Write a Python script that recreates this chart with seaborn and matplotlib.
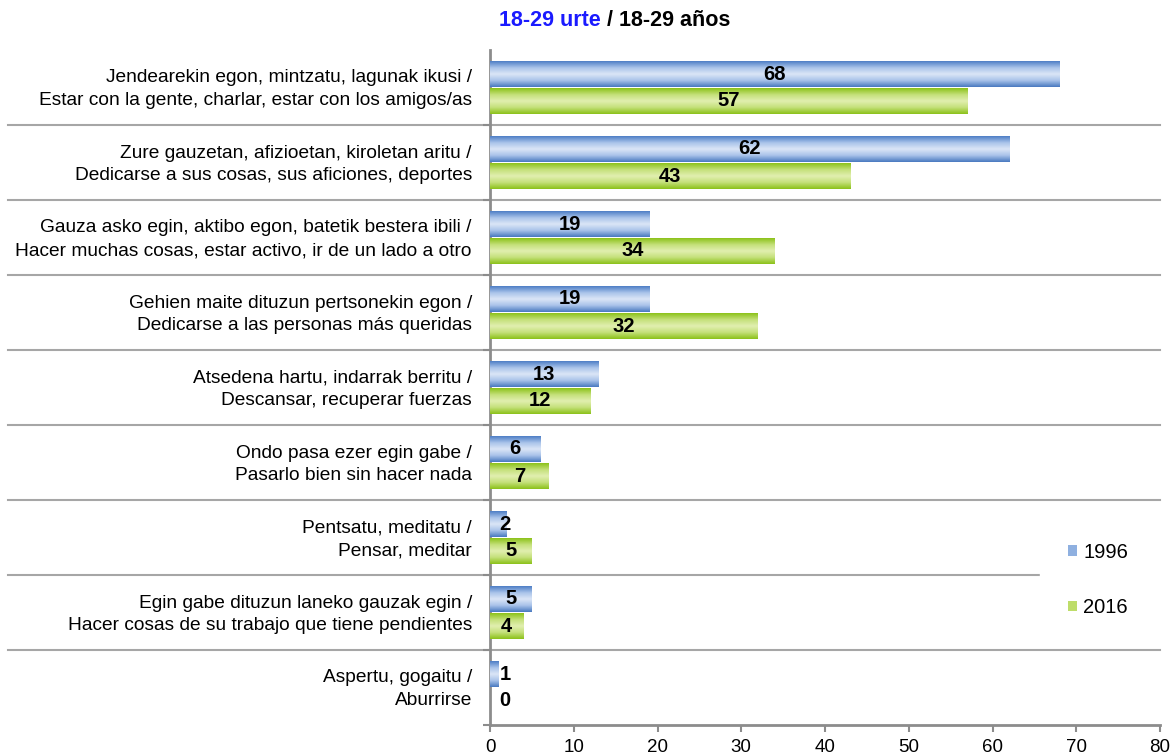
import numpy as np
import pandas as pd
import matplotlib
matplotlib.use("Agg")
import matplotlib.pyplot as plt
import seaborn as sns
from matplotlib.patches import Patch
from matplotlib.colors import LinearSegmentedColormap
import matplotlib.transforms as mtransforms

categories = [
    "Jendearekin egon, mintzatu, lagunak ikusi /\nEstar con la gente, charlar, estar con los amigos/as",
    "Zure gauzetan, afizioetan, kiroletan aritu /\nDedicarse a sus cosas, sus aficiones, deportes",
    "Gauza asko egin, aktibo egon, batetik bestera ibili /\nHacer muchas cosas, estar activo, ir de un lado a otro",
    "Gehien maite dituzun pertsonekin egon /\nDedicarse a las personas más queridas",
    "Atsedena hartu, indarrak berritu /\nDescansar, recuperar fuerzas",
    "Ondo pasa ezer egin gabe /\nPasarlo bien sin hacer nada",
    "Pentsatu, meditatu /\nPensar, meditar",
    "Egin gabe dituzun laneko gauzak egin /\nHacer cosas de su trabajo que tiene pendientes",
    "Aspertu, gogaitu /\nAburrirse",
]
values_1996 = [68, 62, 19, 19, 13, 6, 2, 5, 1]
values_2016 = [57, 43, 34, 32, 12, 7, 5, 4, 0]
series = ["1996", "2016"]
x_ticks = [0, 10, 20, 30, 40, 50, 60, 70, 80]

df = pd.DataFrame({
    "cat": categories * 2,
    "value": values_1996 + values_2016,
    "year": [series[0]] * len(categories) + [series[1]] * len(categories),
})

plt.rcParams['font.family'] = ['Liberation Sans', 'DejaVu Sans']

fig = plt.figure(figsize=(11.75, 7.55), dpi=100)
ax = fig.add_axes([490 / 1175, 30 / 755, 670 / 1175, 675 / 755])

base_colors = {"1996": "#5a8ad0", "2016": "#92c523"}
sns.barplot(data=df, y="cat", x="value", hue="year", orient="h", ax=ax,
            palette=base_colors, width=0.72, gap=0.07, legend=False,
            saturation=1, errorbar=None)

grad = {
    "1996": LinearSegmentedColormap.from_list("b", ["#4f7fc6", "#a9c3ea", "#dbe6f7", "#a9c3ea", "#4a7ac0"]),
    "2016": LinearSegmentedColormap.from_list("g", ["#8cc21a", "#c4e07a", "#e1efb0", "#c4e07a", "#8cc21a"]),
}

ax.set_xlim(0, 80)
ax.set_ylim(len(categories) - 0.5, -0.5)

g = np.linspace(0, 1, 64).reshape(-1, 1)
for container, yr in zip(ax.containers, series):
    for patch in container.patches:
        x0, y0 = patch.get_x(), patch.get_y()
        w, h = patch.get_width(), patch.get_height()
        if w <= 0:
            continue
        im = ax.imshow(g, cmap=grad[yr], aspect="auto",
                       extent=[x0, x0 + w, y0 + h, y0], zorder=3,
                       interpolation="bilinear")
        im.set_clip_path(patch)
        patch.set_edgecolor("none")
    for patch, v in zip(container.patches, container.datavalues):
        yc = patch.get_y() + patch.get_height() / 2
        xc = v / 2 if v >= 3 else 1.8
        ax.text(xc, yc, f"{int(v)}", ha="center", va="center",
                fontsize=14.5, fontweight="bold", color="black", zorder=5)

ax.set_xlim(0, 80)
ax.set_ylim(len(categories) - 0.5, -0.5)
ax.set_xlabel("")
ax.set_ylabel("")
ax.set_xticks(x_ticks)
ax.set_xticklabels([str(t) for t in x_ticks], fontsize=13.5)
ax.tick_params(axis="x", length=5, color="#8c8c8c", width=1.5, pad=5)
ax.tick_params(axis="y", length=0, pad=13)
shift_up = mtransforms.ScaledTranslation(0, 3 / 100, fig.dpi_scale_trans)
for lab in ax.get_yticklabels():
    lab.set_fontsize(13.8)
    lab.set_multialignment("right")
    lab.set_linespacing(1.45)
    lab.set_transform(lab.get_transform() + shift_up)
ax.set_yticks(np.arange(len(categories)) + 0.5, minor=True)
ax.tick_params(axis="y", which="minor", length=5, color="#8c8c8c", width=1.5)

for s in ["top", "right"]:
    ax.spines[s].set_visible(False)
for s in ["left", "bottom"]:
    ax.spines[s].set_color("#8c8c8c")
    ax.spines[s].set_linewidth(2)

# separators between categories, extending to the left edge of the figure
trans = mtransforms.blended_transform_factory(fig.transFigure, ax.transData)
trans_r = mtransforms.blended_transform_factory(ax.transAxes, ax.transData)
for i in range(len(categories) - 1):
    yb = i + 0.5
    ax.plot([8 / 1175, 490 / 1175], [yb, yb], transform=trans, color="#a6a6a6",
            lw=1.5, clip_on=False, zorder=1)
    ax.plot([0, 1], [yb, yb], transform=trans_r, color="#a6a6a6",
            lw=1.5, clip_on=False, zorder=1)

# title
fig.text(601 / 1175, 1 - 21 / 755, "18-29 urte", color="#1a1aff", fontsize=15.5,
         fontweight="bold", ha="right", va="center")
fig.text(601 / 1175, 1 - 21 / 755, " / 18-29 años", color="black", fontsize=15.5,
         fontweight="bold", ha="left", va="center")

handles = [Patch(facecolor="#8fb0e0", edgecolor="none", label=series[0]),
           Patch(facecolor="#bedd6a", edgecolor="none", label=series[1])]
leg = fig.legend(handles=handles, loc="center left",
                 bbox_to_anchor=(1040 / 1175, 1 - 580 / 755, 130 / 1175, 0),
                 mode="expand", frameon=True,
                 fontsize=14.5, handlelength=0.45, handleheight=0.45,
                 handletextpad=0.3, labelspacing=1.8, borderpad=1.4,
                 borderaxespad=0,
                 facecolor="white", edgecolor="white", framealpha=1)
leg.set_zorder(10)

fig.savefig("out.png", dpi=100, facecolor="white")
